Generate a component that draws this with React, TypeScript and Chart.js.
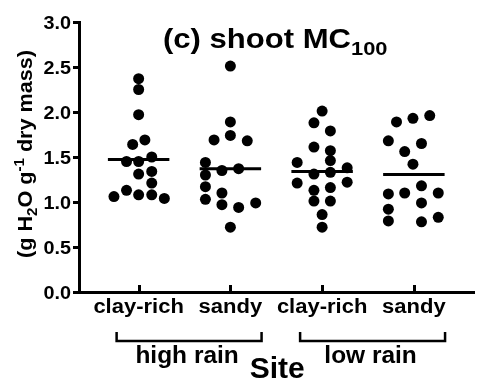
import React, { useEffect, useRef } from 'react';
import { Chart, registerables } from 'chart.js';

Chart.register(...registerables);

// ---- data ----
const categories = ['clay-rich', 'sandy', 'clay-rich', 'sandy'];
const groupLabels = ['high rain', 'low rain'];
const yTickValues = [0, 0.5, 1, 1.5, 2, 2.5, 3];

const highClay = [2.37, 2.25, 1.97, 1.64, 1.69, 1.45, 1.45, 1.5, 1.31, 1.34, 1.21, 1.13, 1.06, 1.08, 1.08, 1.04];
const highClayJitter = [0, 0, 0, -0.065, 0.068, -0.132, 0, 0.143, 0, 0.143, 0.143, -0.132, -0.269, 0, 0.143, 0.28];

const highSandy = [2.51, 1.89, 1.74, 1.69, 1.68, 1.44, 1.35, 1.37, 1.3, 1.17, 1.1, 1.03, 0.97, 0.94, 0.99, 0.72];
const highSandyJitter = [0, 0, 0, -0.178, 0.184, -0.272, -0.092, 0.09, -0.272, -0.272, -0.092, -0.272, -0.092, 0.09, 0.276, 0];

const lowClay = [2.01, 1.88, 1.79, 1.61, 1.57, 1.44, 1.46, 1.38, 1.31, 1.33, 1.21, 1.22, 1.13, 1.16, 1.01, 1.01, 0.86, 0.72];
const lowClayJitter = [0, -0.089, 0.09, -0.089, 0.09, -0.272, 0.09, 0.273, -0.089, 0.09, -0.272, 0.273, -0.089, 0.09, -0.089, 0.09, 0, 0];

const lowSandy = [1.89, 1.93, 1.96, 1.68, 1.65, 1.56, 1.42, 1.09, 1.1, 1.18, 1.1, 0.99, 0.92, 0.79, 0.78, 0.83];
const lowSandyJitter = [-0.189, -0.01, 0.173, -0.278, 0.083, -0.1, -0.01, -0.278, -0.1, 0.083, 0.266, 0.083, -0.278, -0.278, 0.083, 0.266];

const seriesValues = [highClay, highSandy, lowClay, lowSandy];
const seriesJitter = [highClayJitter, highSandyJitter, lowClayJitter, lowSandyJitter];

const FONT = "'Liberation Sans', Arial, sans-serif";

function drawText(ctx: CanvasRenderingContext2D, str: string, x: number, y: number, size: number, align: CanvasTextAlign, sx = 1) {
  ctx.save();
  ctx.translate(x, y);
  ctx.scale(sx, 1);
  ctx.font = `bold ${size}px ${FONT}`;
  ctx.textAlign = align;
  ctx.textBaseline = 'alphabetic';
  ctx.fillStyle = '#000';
  ctx.fillText(str, 0, 0);
  ctx.restore();
}

const decorPlugin = {
  id: 'decor',
  afterDraw(chart: any) {
    const ctx: CanvasRenderingContext2D = chart.ctx;
    const xs = chart.scales.x;
    const ys = chart.scales.y;
    const bottom = chart.chartArea.bottom;

    // y tick labels
    yTickValues.forEach((v) => {
      drawText(ctx, v.toFixed(1), 71, ys.getPixelForValue(v) + 6.5, 18.5, 'right', 1.07);
    });

    // x tick marks (inward) and labels
    ctx.save();
    ctx.strokeStyle = '#000';
    ctx.lineWidth = 3;
    categories.forEach((c, i) => {
      const px = Math.round(xs.getPixelForValue(i)) + 0.5;
      ctx.beginPath();
      ctx.moveTo(px, bottom);
      ctx.lineTo(px, bottom - 7);
      ctx.stroke();
    });
    ctx.restore();
    categories.forEach((c, i) => {
      drawText(ctx, c, xs.getPixelForValue(i), 313, 20, 'center', 1.1);
    });

    // group brackets
    groupLabels.forEach((g, gi) => {
      const i0 = gi * 2;
      const x1 = xs.getPixelForValue(i0 - 0.24);
      const x2 = xs.getPixelForValue(i0 + 1.34);
      ctx.save();
      ctx.strokeStyle = '#000';
      ctx.lineWidth = 2.5;
      ctx.beginPath();
      ctx.moveTo(x1, 332);
      ctx.lineTo(x1, 341);
      ctx.lineTo(x2, 341);
      ctx.lineTo(x2, 332);
      ctx.stroke();
      ctx.restore();
      drawText(ctx, g, (x1 + x2) / 2 - 2, 363, 24, 'center', 1.02);
    });

    // x axis title
    drawText(ctx, 'Site', (chart.chartArea.left + chart.chartArea.right) / 2 + 1, 378, 30, 'center', 1);

    // chart title with subscript
    const mainTitle = '(c) shoot MC';
    const sxT = 1.15;
    ctx.save();
    ctx.font = `bold 27px ${FONT}`;
    const w = ctx.measureText(mainTitle).width * sxT;
    ctx.restore();
    const tx = 163;
    drawText(ctx, mainTitle, tx, 48, 27, 'left', sxT);
    drawText(ctx, '100', tx + w, 55, 19, 'left', sxT);

    // y axis title (rotated) with sub/superscripts
    const pieces = [
      { t: '(g H', s: 20, dy: 0 },
      { t: '2', s: 14, dy: 5 },
      { t: 'O g', s: 20, dy: 0 },
      { t: '-1', s: 14, dy: -8 },
      { t: ' dry mass)', s: 20, dy: 0 },
    ];
    const sxY = 1.08;
    ctx.save();
    let total = 0;
    const widths = pieces.map((p) => {
      ctx.font = `bold ${p.s}px ${FONT}`;
      const pw = ctx.measureText(p.t).width * sxY;
      total += pw;
      return pw;
    });
    ctx.translate(32, 154);
    ctx.rotate(-Math.PI / 2);
    let cx = -total / 2;
    pieces.forEach((p, k) => {
      drawText(ctx, p.t, cx, p.dy, p.s, 'left', sxY);
      cx += widths[k];
    });
    ctx.restore();
  },
};

function mean(a: number[]) {
  return a.reduce((s, v) => s + v, 0) / a.length;
}

export default function App() {
  const ref = useRef<HTMLCanvasElement | null>(null);

  useEffect(() => {
    if (!ref.current) return;
    const pointSets = seriesValues.map((vals, i) => ({
      type: 'scatter' as const,
      data: vals.map((v, k) => ({ x: i + seriesJitter[i][k], y: v })),
      pointRadius: 5.5,
      pointBackgroundColor: '#000',
      pointBorderWidth: 0,
      showLine: false,
      clip: false as any,
    }));
    const meanSets = seriesValues.map((vals, i) => {
      const m = mean(vals);
      return {
        type: 'scatter' as const,
        data: [
          { x: i - 0.335, y: m },
          { x: i + 0.335, y: m },
        ],
        showLine: true,
        borderColor: '#000',
        borderWidth: 3,
        pointRadius: 0,
        clip: false as any,
      };
    });

    const chart = new Chart(ref.current, {
      type: 'scatter',
      data: { datasets: [...pointSets, ...meanSets] as any },
      options: {
        responsive: false,
        animation: false,
        layout: { padding: { top: 22, right: 0, left: 0, bottom: 0 } },
        plugins: { legend: { display: false }, tooltip: { enabled: false } },
        scales: {
          x: {
            type: 'linear',
            min: -0.65,
            max: 3.65,
            afterBuildTicks: (s: any) => {
              s.ticks = categories.map((_, i) => ({ value: i }));
            },
            afterFit: (s: any) => {
              s.height = 90;
            },
            ticks: { display: false },
            grid: { display: true, drawOnChartArea: false, drawTicks: false, color: '#000', lineWidth: 3 },
            border: { display: true, color: '#000', width: 3 },
          },
          y: {
            type: 'linear',
            min: 0,
            max: 3,
            afterBuildTicks: (s: any) => {
              s.ticks = yTickValues.map((v) => ({ value: v }));
            },
            afterFit: (s: any) => {
              s.width = 79;
            },
            ticks: { display: false },
            grid: { display: true, drawOnChartArea: false, drawTicks: true, tickLength: 6, color: '#000', lineWidth: 3 },
            border: { display: true, color: '#000', width: 3 },
          },
        },
      },
      plugins: [decorPlugin],
    });
    return () => chart.destroy();
  }, []);

  return (
    <div style={{ position: 'absolute', left: 0, top: 0, width: 479, height: 382, background: '#fff' }}>
      <canvas ref={ref} width={479} height={382} style={{ width: 479, height: 382, display: 'block' }} />
    </div>
  );
}
